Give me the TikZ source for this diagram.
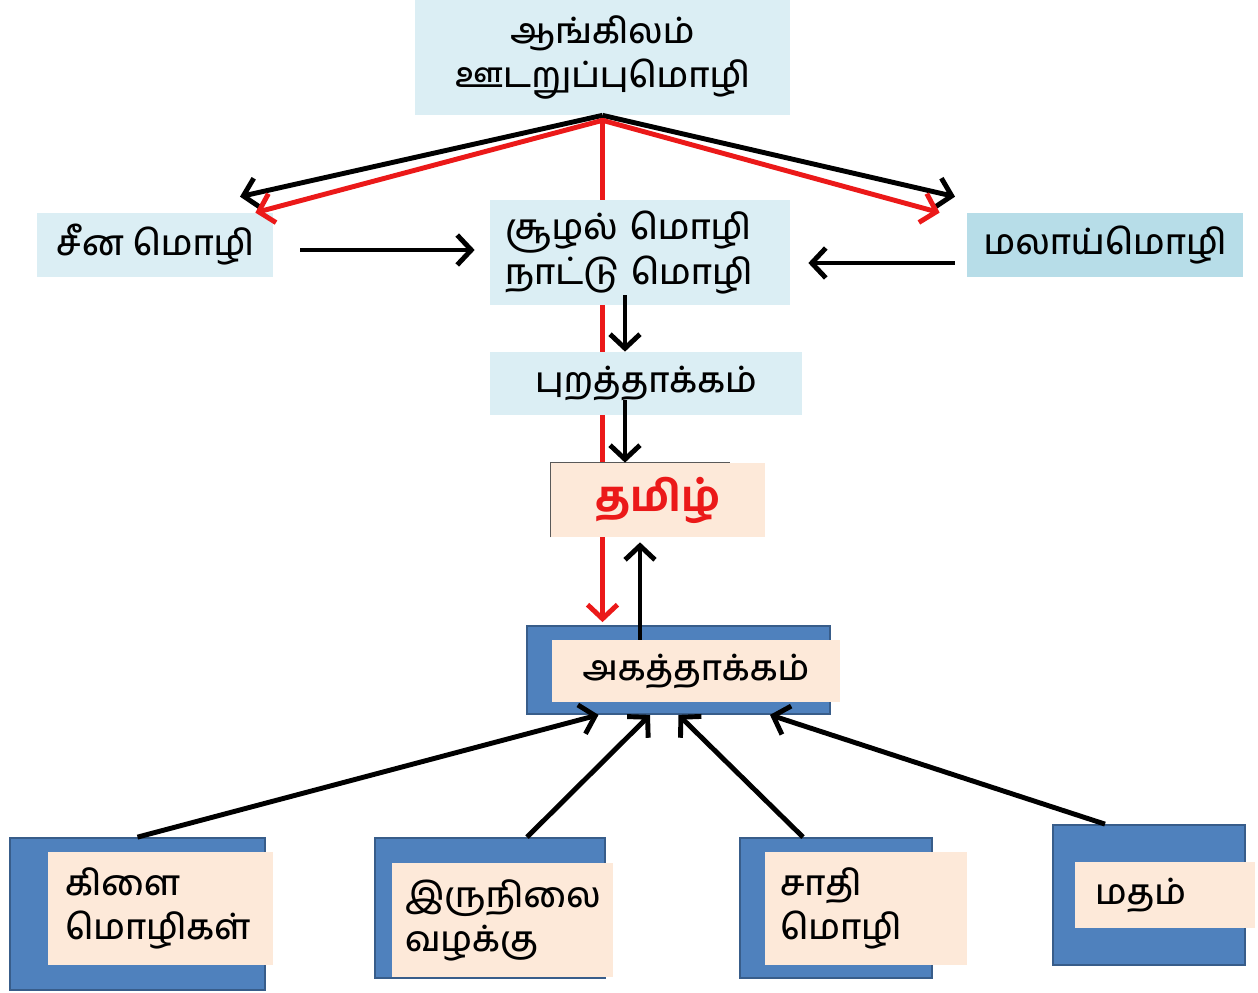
\documentclass[tikz,border=0pt]{standalone}
\usepackage{fontspec}
\newfontfamily\tamil[Script=Tamil,UprightFont={* Medium}]{Hind Madurai}
\usetikzlibrary{arrows.meta}
\definecolor{paleblue}{RGB}{219,238,244}
\definecolor{midblue}{RGB}{183,221,232}
\definecolor{peach}{RGB}{253,233,217}
\definecolor{boxblue}{RGB}{79,129,189}
\definecolor{boxedge}{RGB}{56,93,138}
\definecolor{arrowred}{RGB}{235,25,25}

\begin{document}
\begin{tikzpicture}[x=0.02cm,y=-0.02cm,
  sz/.style 2 args={minimum width=#1*0.02cm,minimum height=#2*0.02cm},
  lbox/.style={fill=paleblue,inner sep=0pt},
  pbox/.style={fill=peach,inner sep=0pt},
  bbox/.style={fill=boxblue,draw=boxedge,line width=1pt,inner sep=0pt},
  arr/.style={line width=2.8pt,-{Straight Barb[length=8pt,width=17pt]}},
  font=\tamil\fontsize{20}{25}\selectfont]
\useasboundingbox (0,0) rectangle (1258,993);
% red line runs behind the middle boxes
\node[lbox,sz={375}{115},align=center] (eng) at (602.5,57.5) {ஆங்கிலம்\\ஊடறுப்புமொழி};
\node[bbox,sz={303}{88}] (intB) at (678.5,670) {};
\draw[arrowred,arr,shorten >=3*0.02cm] (eng.south) -- (eng.south |- intB.north);
\node[lbox,sz={236}{64}] (cn) at (155,245) {சீன மொழி};
\node[lbox,sz={300}{105},inner xsep=15*0.02cm,text width=270*0.02cm,align=left,font=\tamil\fontsize{20}{23}\selectfont] (env) at (640,252.5) {சூழல் மொழி\\நாட்டு மொழி};
\node[lbox,fill=midblue,sz={276}{64}] (my) at (1105,245) {மலாய்மொழி};
\node[lbox,sz={312}{63}] (ext) at (646,383.5) {புறத்தாக்கம்};
\node[pbox,sz={214}{74},text=arrowred,font=\tamil\fontsize{24}{28}\selectfont\bfseries] (ta) at (658,500) {தமிழ்};
\draw[gray!70!black,line width=0.6pt] (ta.south west) -- (ta.north west) -- ([xshift=-0.7cm]ta.north east);
\node[pbox,sz={288}{62}] (int) at (696,671) {அகத்தாக்கம்};
% bottom boxes
\node[bbox,sz={255}{152}] (b1) at (137.5,914) {};
\node[pbox,sz={225}{113},inner xsep=17*0.02cm,text width=191*0.02cm,align=left] (b1t) at (160.5,908.5) {கிளை\\மொழிகள்};
\node[bbox,sz={230}{140}] (b2) at (490,908) {};
\node[pbox,sz={221}{114},inner xsep=13*0.02cm,text width=195*0.02cm,align=left] (b2t) at (502.5,920) {இருநிலை\\வழக்கு};
\node[bbox,sz={192}{140}] (b3) at (836,908) {};
\node[pbox,sz={202}{113},inner xsep=15*0.02cm,text width=172*0.02cm,align=left] (b3t) at (866,908.5) {சாதி\\மொழி};
\node[bbox,sz={192}{140}] (b4) at (1149,895) {};
\node[pbox,sz={180}{66},inner xsep=20*0.02cm,text width=140*0.02cm,align=left] (b4t) at (1165,895) {மதம்};
% arrows from the top
\draw[arr] (eng.south) -- ([xshift=1.7cm,yshift=0.32cm]cn.north);
\draw[arr] (eng.south) -- ([xshift=-3cm,yshift=0.32cm]my.north);
\draw[arrowred,arr] ([yshift=-0.1cm]eng.south) -- ([xshift=-0.36cm]cn.north east);
\draw[arrowred,arr] ([yshift=-0.1cm]eng.south) -- ([xshift=-0.54cm]my.north west);
\draw[arr,shorten <=27*0.02cm,shorten >=15*0.02cm] ([yshift=-0.1cm]cn.east) -- ([yshift=-0.1cm]cn.east -| env.west);
\draw[arr,shorten <=12*0.02cm,shorten >=18*0.02cm] ([yshift=-0.36cm]my.west) -- ([yshift=-0.36cm]my.west -| env.east);
\draw[arr] ([xshift=-0.3cm,yshift=0.2cm]env.south) -- ([xshift=-0.3cm]env.south |- ext.north);
\draw[arr] ([xshift=-0.42cm,yshift=0.3cm]ext.south) -- ([xshift=-0.42cm]ext.south |- ta.north);
\draw[arr,shorten >=5*0.02cm] ([xshift=-1.12cm]int.north) -- ([xshift=-1.12cm]int.north |- ta.south);
% arrows into the inner box
\draw[arr] (b1.north) -- ([xshift=-1.6cm]intB.south);
\draw[arr] ([xshift=0.74cm]b2.north) -- ([xshift=-0.57cm]intB.south);
\draw[arr] ([xshift=-0.66cm]b3.north) -- (intB.south);
\draw[arr] ([xshift=-0.88cm]b4.north) -- ([xshift=1.83cm]intB.south);
\end{tikzpicture}
\end{document}
